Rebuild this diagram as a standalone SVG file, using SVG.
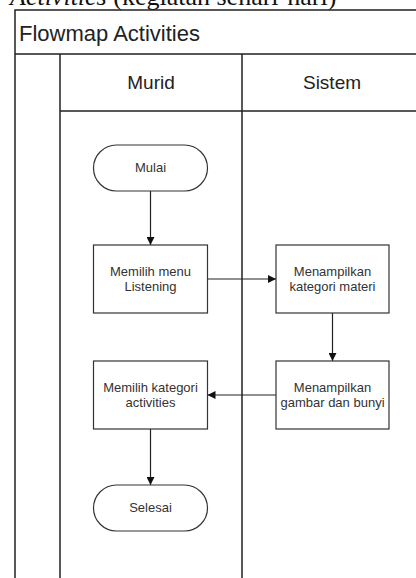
<svg xmlns="http://www.w3.org/2000/svg" width="416" height="578" viewBox="0 0 416 578">
<style>
.frame{stroke:#222;stroke-width:1.5;fill:none}
.box{fill:#fff;stroke:#333;stroke-width:1.2}
.lbl{font-family:"Liberation Sans",Arial,sans-serif;font-size:13px;fill:#333;text-anchor:middle}
.hdr{font-family:"Liberation Sans",Arial,sans-serif;font-size:19px;fill:#222;text-anchor:middle}
.conn{stroke:#222;stroke-width:1.2;fill:none;marker-end:url(#ah)}
</style>
<defs>
<marker id="ah" viewBox="0 0 10 10" refX="10" refY="5" markerWidth="8" markerHeight="8" markerUnits="userSpaceOnUse" orient="auto">
<path d="M0,0 L10,5 L0,10 z" fill="#111"/>
</marker>
</defs>
<rect width="416" height="578" fill="#fff"/>
<text x="10" y="5" font-family="'Liberation Serif','Times New Roman',serif" font-size="26" fill="#111"><tspan font-style="italic">Activities</tspan> (kegiatan sehari-hari)</text>
<g id="frame">
<path class="frame" d="M15,578 V10 H416 M15,54 H416 M60,54 V578 M242,54 V578 M60,111 H416"/>
<text x="19" y="41" font-family="'Liberation Sans',Arial,sans-serif" font-size="22" fill="#222">Flowmap Activities</text>
<text class="hdr" x="151" y="89">Murid</text>
<text class="hdr" x="332" y="89">Sistem</text>
</g>
<g id="connectors">
<path class="conn" d="M150.5,191 V245"/>
<path class="conn" d="M207.5,279 H276"/>
<path class="conn" d="M332.5,313 V361"/>
<path class="conn" d="M276,395 H207.5"/>
<path class="conn" d="M150.5,429 V485"/>
</g>
<g id="mulai">
<rect class="box" x="93.5" y="145" width="114" height="46" rx="23"/>
<text class="lbl" x="150.5" y="172">Mulai</text>
</g>
<g id="memilih-menu">
<rect class="box" x="93.5" y="245" width="114" height="68"/>
<text class="lbl" x="150.5" y="276">Memilih menu</text>
<text class="lbl" x="150.5" y="291">Listening</text>
</g>
<g id="tampil-kategori">
<rect class="box" x="276" y="245" width="113" height="68"/>
<text class="lbl" x="332.5" y="276">Menampilkan</text>
<text class="lbl" x="332.5" y="291">kategori materi</text>
</g>
<g id="tampil-gambar">
<rect class="box" x="276" y="361" width="113" height="68"/>
<text class="lbl" x="332.5" y="392">Menampilkan</text>
<text class="lbl" x="332.5" y="407">gambar dan bunyi</text>
</g>
<g id="memilih-kategori">
<rect class="box" x="93.5" y="361" width="114" height="68"/>
<text class="lbl" x="150.5" y="392">Memilih kategori</text>
<text class="lbl" x="150.5" y="407">activities</text>
</g>
<g id="selesai">
<rect class="box" x="93.5" y="485" width="114" height="46" rx="23"/>
<text class="lbl" x="150.5" y="512">Selesai</text>
</g>
</svg>
